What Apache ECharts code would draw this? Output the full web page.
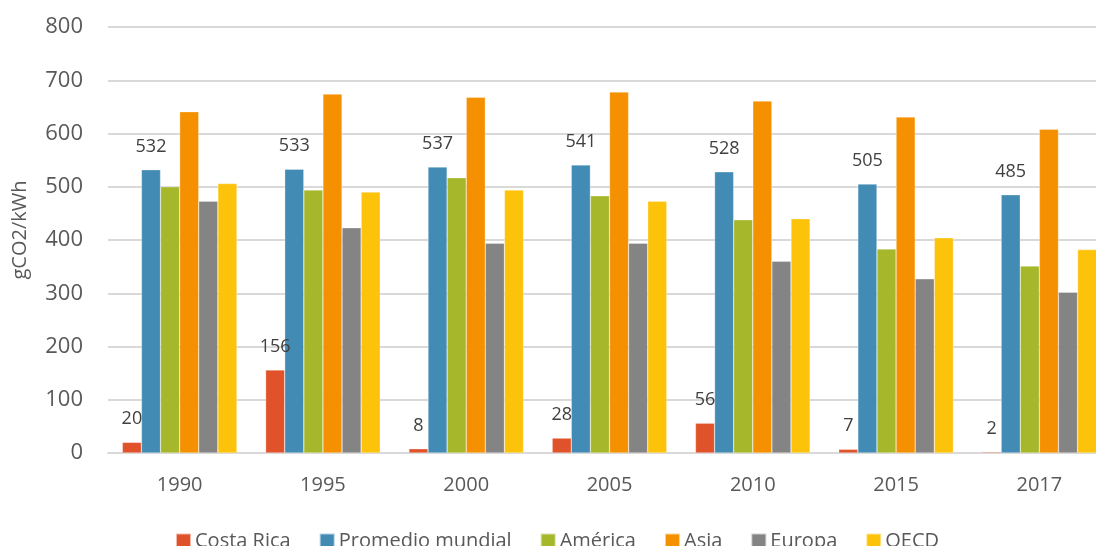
<!DOCTYPE html>
<html>
<head>
<meta charset="utf-8">
<script src="https://cdn.jsdelivr.net/npm/echarts@6/dist/echarts.min.js"></script>
<style>
  html, body { margin: 0; padding: 0; background: #fff; }
  #chart { width: 1096px; height: 546px; }
</style>
</head>
<body>
<div id="chart"></div>
<script>
const years = ['1990', '1995', '2000', '2005', '2010', '2015', '2017']
const costaRica = [20, 156, 8, 28, 56, 7, 2]
const promedio = [532, 533, 537, 541, 528, 505, 485]
const america = [500, 494, 517, 483, 438, 383, 351]
const asia = [641, 674, 668, 678, 661, 631, 608]
const europa = [473, 423, 394, 394, 360, 327, 302]
const oecd = [506, 490, 494, 473, 440, 404, 382]

const seriesDefs = [
  { name: 'Costa Rica', data: costaRica, color: '#E0522A', label: true },
  { name: 'Promedio mundial', data: promedio, color: '#428BB4', label: true },
  { name: 'América', data: america, color: '#A6B72B', label: false },
  { name: 'Asia', data: asia, color: '#F59100', label: false },
  { name: 'Europa', data: europa, color: '#848484', label: false },
  { name: 'OECD', data: oecd, color: '#FDC20A', label: false }
]

const font = '"Open Sans", "Noto Sans", sans-serif'

const chart = echarts.init(document.getElementById('chart'))

chart.setOption({
  animation: false,
  textStyle: { fontFamily: font },
  grid: {
    left: 108,
    width: 1003,
    top: 27,
    height: 426,
    containLabel: false,
    outerBoundsMode: 'none'
  },
  legend: {
    left: 170,
    top: 526,
    itemWidth: 15,
    itemHeight: 15,
    itemGap: 28,
    icon: 'rect',
    textStyle: { fontSize: 20, color: '#595959', fontFamily: font, padding: [0, 0, 0, -1] },
    data: seriesDefs.map(s => s.name)
  },
  xAxis: {
    type: 'category',
    data: years,
    axisLine: { lineStyle: { color: '#d9d9d9', width: 2 } },
    axisTick: { show: false },
    axisLabel: { fontSize: 20, color: '#595959', margin: 22 }
  },
  yAxis: {
    type: 'value',
    min: 0,
    max: 800,
    interval: 100,
    name: 'gCO2/kWh',
    nameLocation: 'middle',
    nameGap: 78,
    nameRotate: 90,
    nameTextStyle: { fontSize: 20, color: '#595959', padding: [0, 0, 0, 20] },
    axisLabel: { fontSize: 22, color: '#595959', margin: 25 },
    splitLine: { lineStyle: { color: '#d9d9d9', width: 2 } }
  },
  series: seriesDefs.map(s => ({
    name: s.name,
    type: 'bar',
    data: s.data,
    barGap: '0%',
    barCategoryGap: '20%',
    itemStyle: { color: s.color, borderColor: 'rgba(255,255,255,0.6)', borderWidth: 0.5 },
    label: {
      show: s.label,
      position: 'top',
      distance: 14,
      fontSize: 18,
      color: '#404040'
    }
  }))
})
</script>
</body>
</html>
